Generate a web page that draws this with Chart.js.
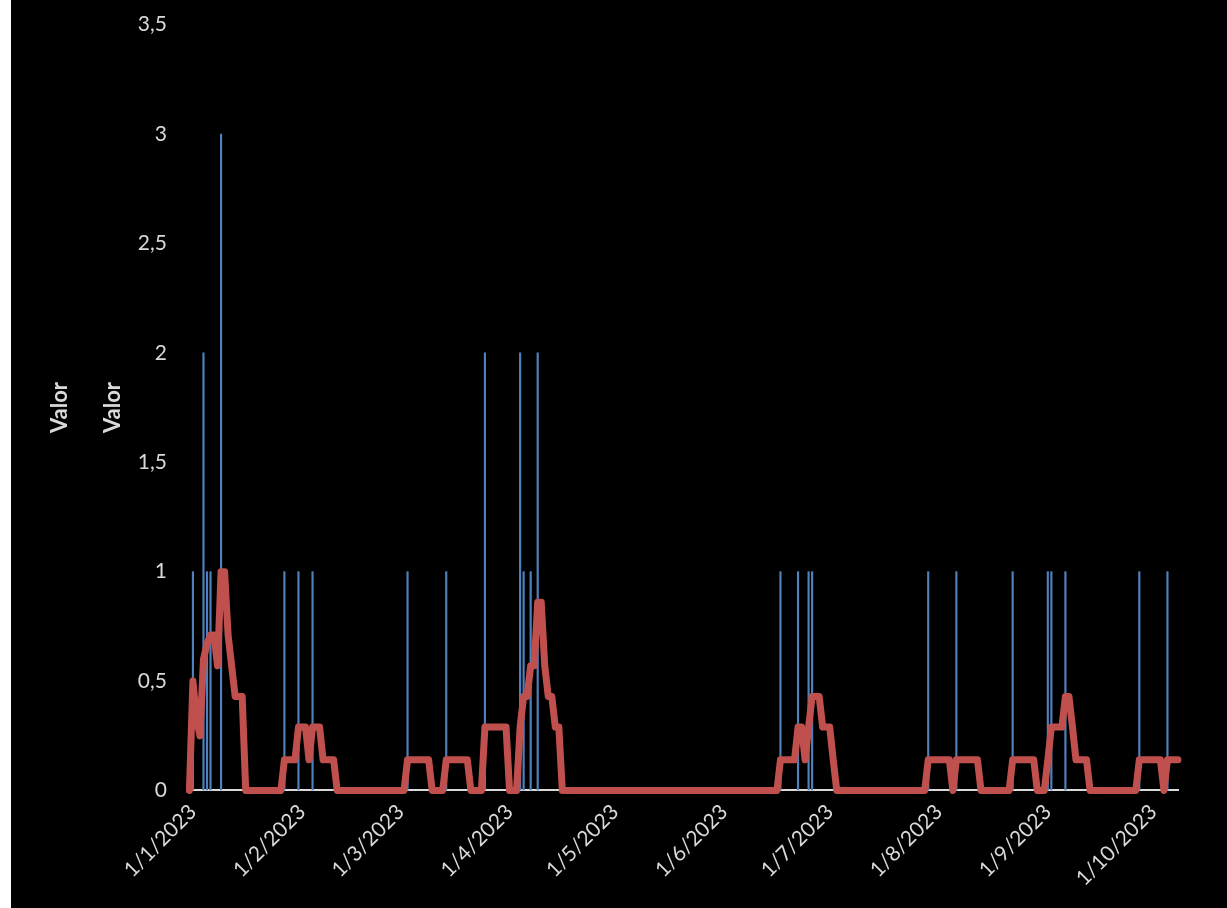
<!DOCTYPE html>
<html>
<head>
<meta charset="utf-8">
<script src="https://cdn.jsdelivr.net/npm/chart.js@4.4.0/dist/chart.umd.min.js"></script>
<style>
  body { margin: 0; background: #fff; }
  #wrap { position: absolute; left: 11px; top: 0; width: 1216px; height: 908px; background: #000; }
</style>
</head>
<body>
<div id="wrap"><canvas id="chart" width="1216" height="908"></canvas></div>
<script>
// days counted from 1/1/2023
const barDays = [0, 3, 4, 5, 8, 26, 30, 34, 61, 72, 83, 93, 94, 96, 98, 167, 172, 175, 176, 209, 217, 233, 243, 244, 248, 269, 277];
const barValues = [1, 2, 1, 1, 3, 1, 1, 1, 1, 1, 2, 2, 1, 1, 2, 1, 1, 1, 1, 1, 1, 1, 1, 1, 1, 1, 1];

// red line, corner points only (straight between them)
const avgDays = [-1, 0, 1, 2, 3, 4, 5, 6, 7, 8, 9, 10, 11, 12, 14, 15,
  25, 26, 29, 30, 32, 33, 34, 36, 37, 40, 41,
  60, 61, 67, 68, 71, 72, 78, 79, 82, 83, 89, 90, 92, 93, 94, 95, 96, 97, 98, 99, 100, 101, 102, 103, 104, 105,
  166, 167, 171, 172, 173, 174, 175, 176, 178, 179, 181, 182, 183,
  208, 209, 215, 216, 217, 223, 224, 232, 233, 239, 240, 242, 243, 244, 247, 248, 249, 250, 251, 254, 255,
  268, 269, 275, 276, 277, 280];
const avgValues = [0, 0.5, 0.33, 0.25, 0.6, 0.67, 0.71, 0.71, 0.57, 1, 1, 0.71, 0.57, 0.43, 0.43, 0,
  0, 0.14, 0.14, 0.29, 0.29, 0.14, 0.29, 0.29, 0.14, 0.14, 0,
  0, 0.14, 0.14, 0, 0, 0.14, 0.14, 0, 0, 0.29, 0.29, 0, 0, 0.29, 0.43, 0.43, 0.57, 0.57, 0.86, 0.86, 0.57, 0.43, 0.43, 0.29, 0.29, 0,
  0, 0.14, 0.14, 0.29, 0.29, 0.14, 0.29, 0.43, 0.43, 0.29, 0.29, 0.14, 0,
  0, 0.14, 0.14, 0, 0.14, 0.14, 0, 0, 0.14, 0.14, 0, 0, 0.14, 0.29, 0.29, 0.43, 0.43, 0.29, 0.14, 0.14, 0,
  0, 0.14, 0.14, 0, 0.14, 0.14];

const monthDays = [0, 31, 59, 90, 120, 151, 181, 212, 243, 273];
const monthLabels = ['1/1/2023', '1/2/2023', '1/3/2023', '1/4/2023', '1/5/2023', '1/6/2023', '1/7/2023', '1/8/2023', '1/9/2023', '1/10/2023'];

const textColor = '#d9d9d9';
const font = 'Lato';

const bars = barDays.map((d, i) => ({ x: d, y: barValues[i] }));
const avg = avgDays.map((d, i) => ({ x: d, y: avgValues[i] }));

new Chart(document.getElementById('chart'), {
  type: 'bar',
  data: {
    datasets: [
      {
        type: 'line',
        label: 'Media',
        data: avg,
        borderColor: '#c0504d',
        borderWidth: 7,
        borderJoinStyle: 'round',
        borderCapStyle: 'round',
        pointRadius: 0,
        tension: 0,
        clip: false,
        order: 0,
      },
      {
        label: 'Valor',
        data: bars,
        backgroundColor: '#4f81bd',
        barThickness: 1.5,
        clip: false,
        order: 1,
      },
    ],
  },
  options: {
    responsive: false,
    animation: false,
    layout: { padding: { left: 0, right: 49, top: 0, bottom: 8 } },
    plugins: { legend: { display: false }, tooltip: { enabled: false } },
    scales: {
      x: {
        type: 'linear',
        min: 0,
        max: 280,
        offset: false,
        grid: { display: false, drawTicks: false },
        border: { display: true, color: textColor, width: 2 },
        afterBuildTicks: (scale) => {
          scale.ticks = monthDays.map((v) => ({ value: v }));
        },
        ticks: {
          color: textColor,
          font: { family: font, size: 21 },
          minRotation: 45,
          maxRotation: 45,
          padding: 9,
          autoSkip: false,
          callback: (v) => monthLabels[monthDays.indexOf(v)],
        },
      },
      y: {
        min: 0,
        max: 3.5,
        weight: 0,
        // invisible grid, only its tick length keeps labels away from the plot
        grid: { display: true, color: 'transparent', drawOnChartArea: false, drawTicks: true, tickLength: 14 },
        border: { display: false },
        ticks: {
          stepSize: 0.5,
          color: textColor,
          font: { family: font, size: 21 },
          padding: 12,
          callback: (v) => String(v).replace('.', ','),
        },
        title: {
          display: true,
          text: 'Valor',
          color: textColor,
          font: { family: font, size: 22, weight: 'bold' },
          padding: { top: 26, bottom: 0 },
        },
      },
      y2: {
        position: 'left',
        min: 0,
        max: 3.5,
        weight: 1,
        grid: { display: false, drawTicks: false },
        border: { display: false },
        ticks: { display: false },
        title: {
          display: true,
          text: 'Valor',
          color: textColor,
          font: { family: font, size: 22, weight: 'bold' },
          padding: { top: 36, bottom: 0 },
        },
      },
    },
  },
});
</script>
</body>
</html>
